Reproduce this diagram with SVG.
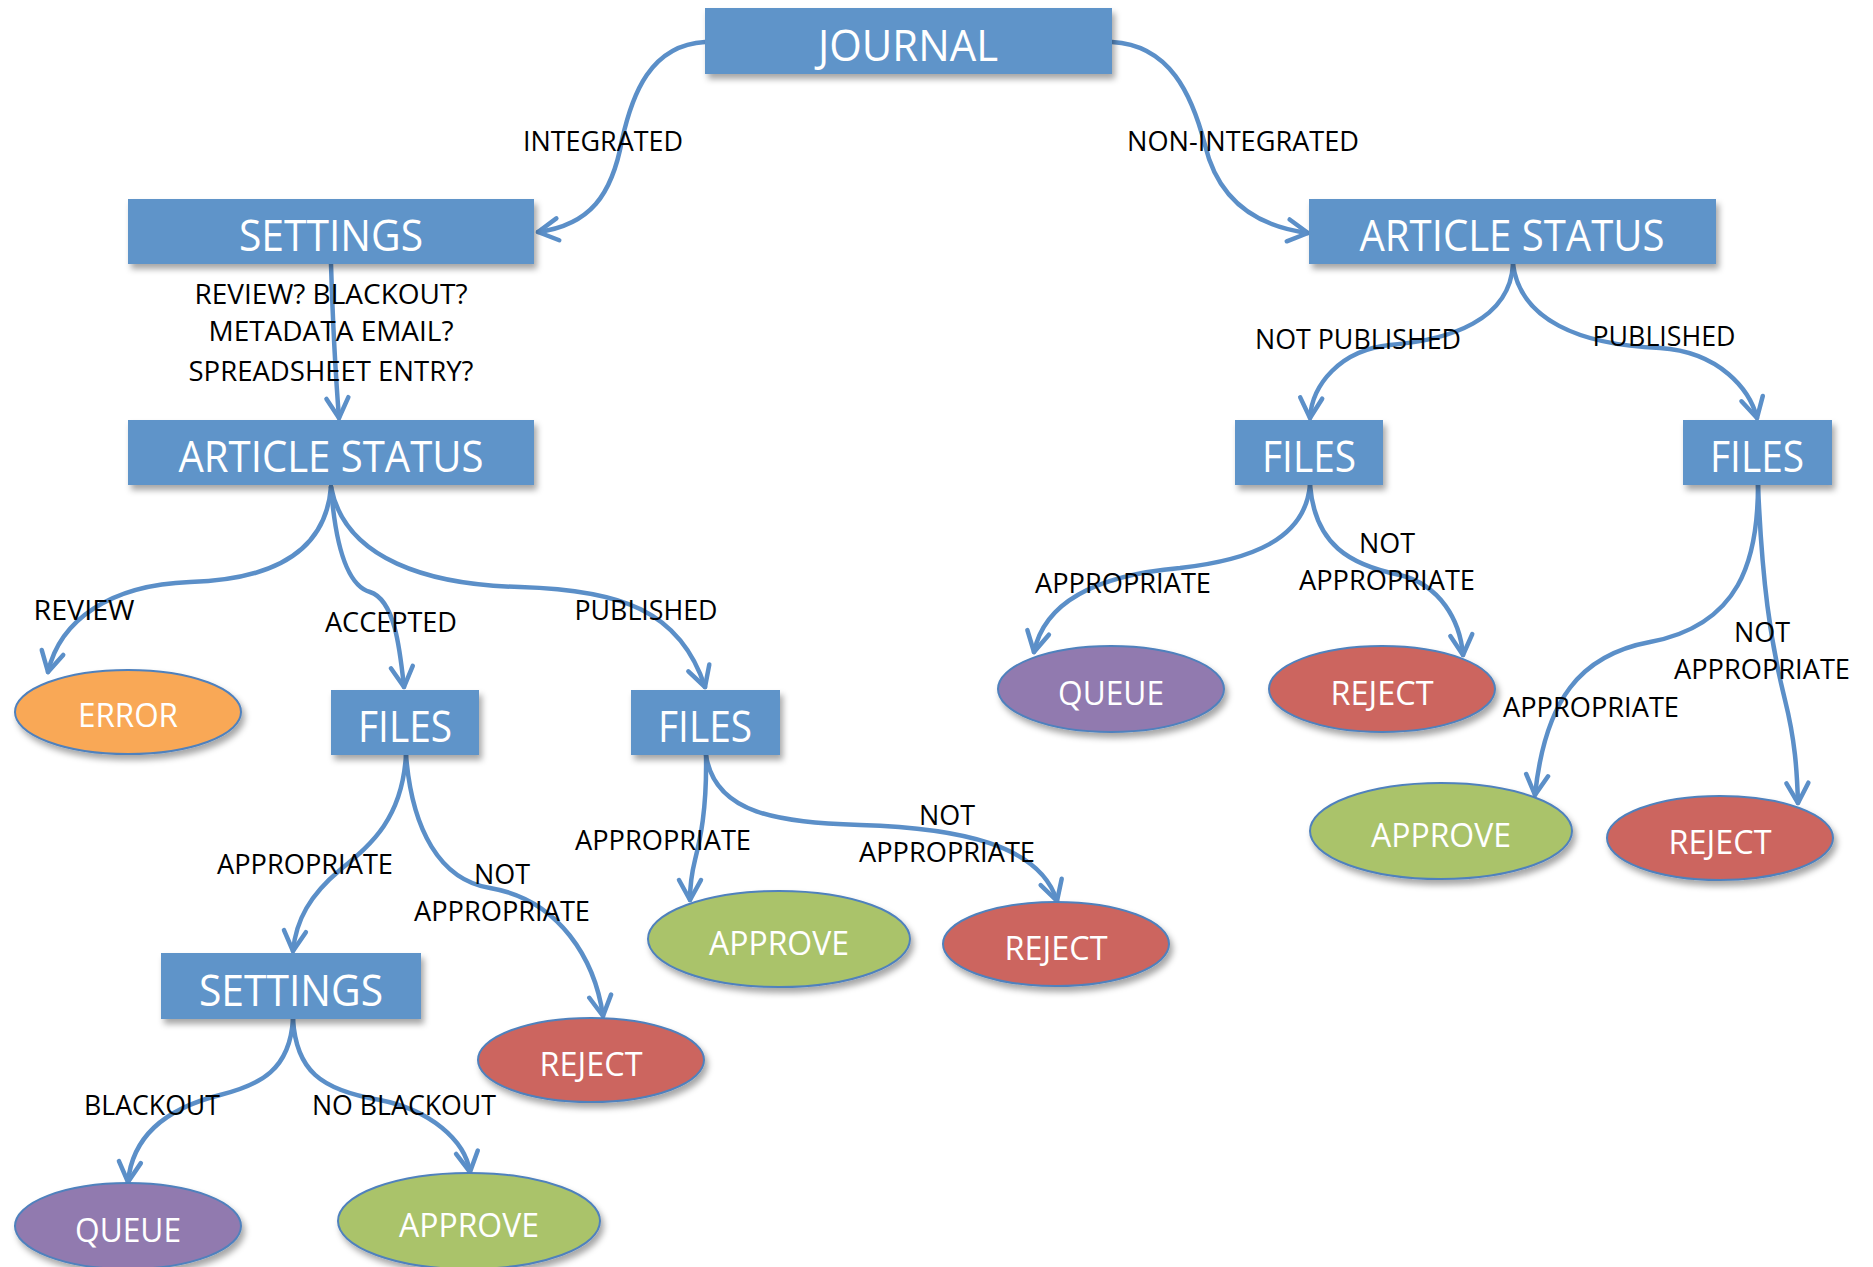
<svg xmlns="http://www.w3.org/2000/svg" width="1873" height="1267" viewBox="0 0 1873 1267">
<defs>
<filter id="sh" x="-10%" y="-20%" width="130%" height="160%">
<feDropShadow dx="3" dy="5" stdDeviation="3" flood-color="#000" flood-opacity="0.35"/>
</filter>
<marker id="ah" markerUnits="userSpaceOnUse" markerWidth="40" markerHeight="40" viewBox="-30 -20 40 40" refX="0" refY="0" orient="auto">
<path d="M-20,-11 L0,0 L-20,11" fill="none" stroke="#5B8FC8" stroke-width="4.5" stroke-linecap="round" stroke-linejoin="round"/>
</marker>
<style>
.box{fill:#5E94C9;filter:url(#sh)}
.ell{stroke:#4F81BD;stroke-width:2;filter:url(#sh)}
.nt{font-family:"Open Sans","Liberation Sans",sans-serif;font-size:43px;fill:#fff;text-anchor:middle}
.et{font-family:"Open Sans","Liberation Sans",sans-serif;font-size:32px;fill:#fff;text-anchor:middle}
.lb{font-family:"Open Sans","Liberation Sans",sans-serif;font-size:28px;fill:#000;text-anchor:middle}
.c{fill:none;stroke:#5B8FC8;stroke-width:4.5;stroke-linecap:round;marker-end:url(#ah)}
</style>
</defs>
<rect width="1873" height="1267" fill="#fff"/>
<g id="connectors">
<path class="c" d="M705,42 C650,45 632,95 622,140 C612,195 590,225 538,232"/>
<path class="c" d="M1112,42 C1170,45 1192,95 1205,145 C1218,200 1255,226 1308,233"/>
<path class="c" d="M331,264 C333,330 336,380 339,418"/>
<path class="c" d="M331,487 C325,560 260,580 190,582 C110,585 60,620 48,672"/>
<path class="c" d="M331,487 C335,540 345,585 370,592 C395,600 400,650 404,687"/>
<path class="c" d="M331,487 C345,560 430,585 520,587 C620,590 680,610 705,687"/>
<path class="c" d="M1513,264 C1510,320 1450,340 1390,345 C1340,350 1312,385 1310,418"/>
<path class="c" d="M1513,264 C1520,320 1580,345 1660,348 C1720,352 1750,390 1757,418"/>
<path class="c" d="M1310,485 C1305,540 1250,560 1180,568 C1100,575 1045,600 1034,652"/>
<path class="c" d="M1310,485 C1315,545 1350,565 1400,575 C1440,585 1460,620 1463,655"/>
<path class="c" d="M1758,485 C1758,560 1740,625 1650,642 C1580,655 1545,700 1535,795"/>
<path class="c" d="M1758,485 C1762,580 1770,640 1785,700 C1795,740 1797,770 1798,803"/>
<path class="c" d="M406,755 C402,820 370,845 340,870 C310,895 296,920 293,951"/>
<path class="c" d="M406,755 C412,830 440,880 490,888 C560,900 595,960 603,1016"/>
<path class="c" d="M706,755 C707,810 700,840 695,860 C690,880 690,890 690,900"/>
<path class="c" d="M706,755 C715,815 780,822 860,825 C960,828 1040,845 1057,901"/>
<path class="c" d="M293,1019 C290,1070 260,1085 220,1095 C160,1110 132,1140 128,1182"/>
<path class="c" d="M293,1019 C296,1070 320,1090 380,1100 C430,1110 465,1140 470,1172"/>
</g>
<g id="labels">
<text class="lb" x="603" y="151" textLength="160" lengthAdjust="spacingAndGlyphs">INTEGRATED</text>
<text class="lb" x="1243" y="151" textLength="232" lengthAdjust="spacingAndGlyphs">NON-INTEGRATED</text>
<text class="lb" x="331" y="304" textLength="273" lengthAdjust="spacingAndGlyphs">REVIEW? BLACKOUT?</text>
<text class="lb" x="331" y="341" textLength="245" lengthAdjust="spacingAndGlyphs">METADATA EMAIL?</text>
<text class="lb" x="331" y="381" textLength="285" lengthAdjust="spacingAndGlyphs">SPREADSHEET ENTRY?</text>
<text class="lb" x="1358" y="349" textLength="206" lengthAdjust="spacingAndGlyphs">NOT PUBLISHED</text>
<text class="lb" x="1664" y="346" textLength="143" lengthAdjust="spacingAndGlyphs">PUBLISHED</text>
<text class="lb" x="84" y="620" textLength="101" lengthAdjust="spacingAndGlyphs">REVIEW</text>
<text class="lb" x="391" y="632" textLength="132" lengthAdjust="spacingAndGlyphs">ACCEPTED</text>
<text class="lb" x="646" y="620" textLength="143" lengthAdjust="spacingAndGlyphs">PUBLISHED</text>
<text class="lb" x="1123" y="593" textLength="176" lengthAdjust="spacingAndGlyphs">APPROPRIATE</text>
<text class="lb" x="1387" y="553" textLength="56" lengthAdjust="spacingAndGlyphs">NOT</text>
<text class="lb" x="1387" y="590" textLength="176" lengthAdjust="spacingAndGlyphs">APPROPRIATE</text>
<text class="lb" x="1762" y="642" textLength="56" lengthAdjust="spacingAndGlyphs">NOT</text>
<text class="lb" x="1762" y="679" textLength="176" lengthAdjust="spacingAndGlyphs">APPROPRIATE</text>
<text class="lb" x="1591" y="717" textLength="176" lengthAdjust="spacingAndGlyphs">APPROPRIATE</text>
<text class="lb" x="305" y="874" textLength="176" lengthAdjust="spacingAndGlyphs">APPROPRIATE</text>
<text class="lb" x="502" y="884" textLength="56" lengthAdjust="spacingAndGlyphs">NOT</text>
<text class="lb" x="502" y="921" textLength="176" lengthAdjust="spacingAndGlyphs">APPROPRIATE</text>
<text class="lb" x="663" y="850" textLength="176" lengthAdjust="spacingAndGlyphs">APPROPRIATE</text>
<text class="lb" x="947" y="825" textLength="56" lengthAdjust="spacingAndGlyphs">NOT</text>
<text class="lb" x="947" y="862" textLength="176" lengthAdjust="spacingAndGlyphs">APPROPRIATE</text>
<text class="lb" x="152" y="1115" textLength="136" lengthAdjust="spacingAndGlyphs">BLACKOUT</text>
<text class="lb" x="404" y="1115" textLength="184" lengthAdjust="spacingAndGlyphs">NO BLACKOUT</text>
</g>
<g id="journal"><rect class="box" x="705" y="8" width="407" height="66"/><text class="nt" x="908" y="61" textLength="180" lengthAdjust="spacingAndGlyphs">JOURNAL</text></g>
<g id="settings1"><rect class="box" x="128" y="199" width="406" height="65"/><text class="nt" x="331" y="251" textLength="184" lengthAdjust="spacingAndGlyphs">SETTINGS</text></g>
<g id="status-right"><rect class="box" x="1309" y="199" width="407" height="65"/><text class="nt" x="1512" y="251" textLength="305" lengthAdjust="spacingAndGlyphs">ARTICLE STATUS</text></g>
<g id="status-left"><rect class="box" x="128" y="420" width="406" height="65"/><text class="nt" x="331" y="472" textLength="305" lengthAdjust="spacingAndGlyphs">ARTICLE STATUS</text></g>
<g id="files-np"><rect class="box" x="1235" y="420" width="148" height="65"/><text class="nt" x="1309" y="472" textLength="94" lengthAdjust="spacingAndGlyphs">FILES</text></g>
<g id="files-p"><rect class="box" x="1683" y="420" width="149" height="65"/><text class="nt" x="1757" y="472" textLength="94" lengthAdjust="spacingAndGlyphs">FILES</text></g>
<g id="files-acc"><rect class="box" x="331" y="690" width="148" height="65"/><text class="nt" x="405" y="742" textLength="94" lengthAdjust="spacingAndGlyphs">FILES</text></g>
<g id="files-pub"><rect class="box" x="631" y="690" width="149" height="65"/><text class="nt" x="705" y="742" textLength="94" lengthAdjust="spacingAndGlyphs">FILES</text></g>
<g id="settings2"><rect class="box" x="161" y="953" width="260" height="66"/><text class="nt" x="291" y="1006" textLength="184" lengthAdjust="spacingAndGlyphs">SETTINGS</text></g>
<g id="error"><ellipse class="ell" cx="128" cy="712" rx="113" ry="42" fill="#F9A856"/><text class="et" x="128" y="727" textLength="100" lengthAdjust="spacingAndGlyphs">ERROR</text></g>
<g id="queue-r"><ellipse class="ell" cx="1111" cy="689" rx="113" ry="43" fill="#917AAF"/><text class="et" x="1111" y="705" textLength="106" lengthAdjust="spacingAndGlyphs">QUEUE</text></g>
<g id="reject-r1"><ellipse class="ell" cx="1382" cy="689" rx="113" ry="43" fill="#CC655E"/><text class="et" x="1382" y="705" textLength="103" lengthAdjust="spacingAndGlyphs">REJECT</text></g>
<g id="approve-r"><ellipse class="ell" cx="1441" cy="831" rx="131" ry="48" fill="#AAC36B"/><text class="et" x="1441" y="847" textLength="140" lengthAdjust="spacingAndGlyphs">APPROVE</text></g>
<g id="reject-r2"><ellipse class="ell" cx="1720" cy="838" rx="113" ry="42" fill="#CC655E"/><text class="et" x="1720" y="854" textLength="103" lengthAdjust="spacingAndGlyphs">REJECT</text></g>
<g id="reject-acc"><ellipse class="ell" cx="591" cy="1060" rx="113" ry="42" fill="#CC655E"/><text class="et" x="591" y="1076" textLength="103" lengthAdjust="spacingAndGlyphs">REJECT</text></g>
<g id="approve-pub"><ellipse class="ell" cx="779" cy="939" rx="131" ry="48" fill="#AAC36B"/><text class="et" x="779" y="955" textLength="140" lengthAdjust="spacingAndGlyphs">APPROVE</text></g>
<g id="reject-pub"><ellipse class="ell" cx="1056" cy="944" rx="113" ry="42" fill="#CC655E"/><text class="et" x="1056" y="960" textLength="103" lengthAdjust="spacingAndGlyphs">REJECT</text></g>
<g id="queue-b"><ellipse class="ell" cx="128" cy="1226" rx="113" ry="43" fill="#917AAF"/><text class="et" x="128" y="1242" textLength="106" lengthAdjust="spacingAndGlyphs">QUEUE</text></g>
<g id="approve-b"><ellipse class="ell" cx="469" cy="1221" rx="131" ry="48" fill="#AAC36B"/><text class="et" x="469" y="1237" textLength="140" lengthAdjust="spacingAndGlyphs">APPROVE</text></g>
</svg>
